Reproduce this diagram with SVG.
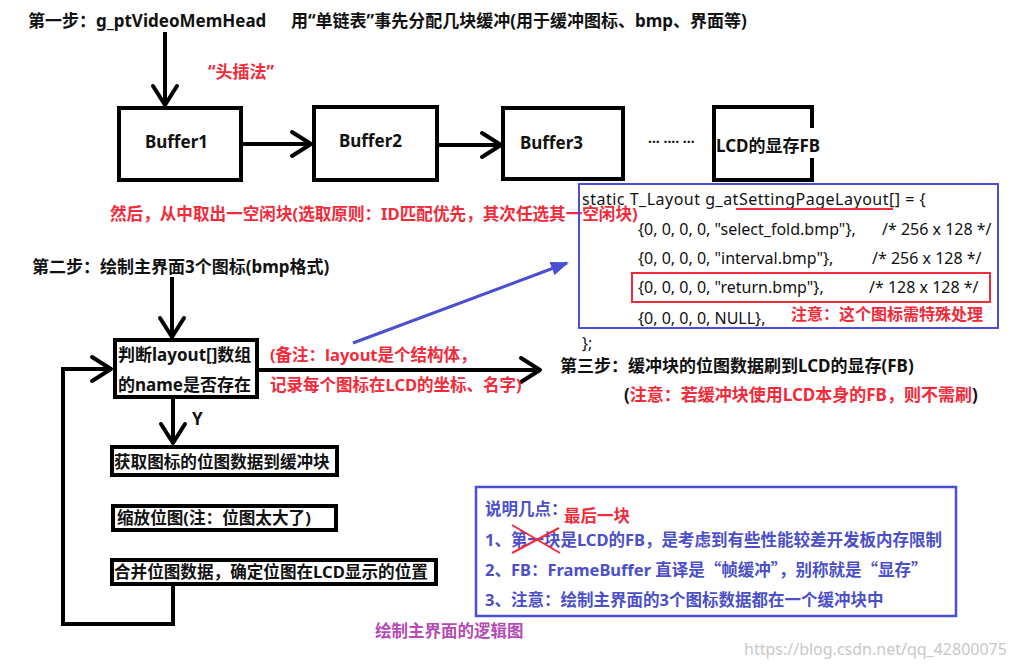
<svg xmlns="http://www.w3.org/2000/svg" width="1024" height="665" viewBox="0 0 1024 665">
<defs>
<style>
text{font-family:"Noto Sans","Noto Sans CJK SC",sans-serif;}
.q{font-family:"Noto Sans CJK SC",sans-serif;}
.b{font-weight:bold;font-size:17px;fill:#111;}
.s{font-weight:bold;font-size:16.6px;fill:#111;}
.r{font-weight:bold;font-size:17px;fill:#f22a3a;}
.code{font-size:16px;fill:#111;}
.blue{font-weight:bold;font-size:16.5px;fill:#4b4fc9;}
.box{fill:#fff;stroke:#000;stroke-width:4;}
.ln{fill:none;stroke:#000;stroke-width:4;}
</style>
<marker id="open" markerUnits="userSpaceOnUse" viewBox="-2 -2 24 28" refX="20" refY="12" markerWidth="24" markerHeight="28" orient="auto" overflow="visible">
<path d="M1,0 L20,12 L1,24" fill="none" stroke="#000" stroke-width="4" stroke-linecap="round" stroke-linejoin="round"/>
</marker>
<marker id="tri" markerUnits="userSpaceOnUse" viewBox="0 0 18 14" refX="16" refY="7" markerWidth="18" markerHeight="14" orient="auto">
<path d="M0,0 L18,7 L0,14 Z" fill="#4b4fd3"/>
</marker>
</defs>
<rect width="1024" height="665" fill="#fff"/>

<g id="title">
<text class="b" x="28" y="27">第一步：g_ptVideoMemHead</text>
<text class="b" x="291" y="27">用“单链表”事先分配几块缓冲(用于缓冲图标、bmp、界面等)</text>
<text class="r" x="208" y="78">“头插法”</text>
</g>

<g id="connectors">
<line class="ln" x1="165" y1="32" x2="165" y2="105" marker-end="url(#open)"/>
<line class="ln" x1="241" y1="144" x2="311" y2="144" marker-end="url(#open)"/>
<line class="ln" x1="437" y1="145" x2="501" y2="145" marker-end="url(#open)"/>
<line class="ln" x1="172" y1="277" x2="172" y2="337" marker-end="url(#open)"/>
<line class="ln" x1="259" y1="370" x2="540" y2="370" marker-end="url(#open)"/>
<line class="ln" x1="173" y1="399" x2="173" y2="443" marker-end="url(#open)"/>
<path class="ln" d="M173,586 V624 H63 V369 H111" marker-end="url(#open)"/>
<line x1="353" y1="343" x2="567" y2="263" stroke="#4b4fd3" stroke-width="3" marker-end="url(#tri)"/>
</g>

<g id="buffer1">
<rect class="box" x="119" y="108" width="122" height="72"/>
<text class="b" x="145" y="148">Buffer1</text>
</g>
<g id="buffer2">
<rect class="box" x="314" y="107" width="123" height="73"/>
<text class="b" x="339" y="147">Buffer2</text>
</g>
<g id="buffer3">
<rect class="box" x="503" y="108" width="120" height="71"/>
<text class="b" x="520" y="149">Buffer3</text>
</g>
<g id="dots">
<text class="b" x="648" y="147" style="font-size:14px">··· ···· ···</text>
</g>
<g id="lcdfb">
<rect class="box" x="714" y="107" width="98" height="73"/>
<rect x="716" y="128" width="106" height="30" fill="#fff"/>
<text class="b" x="716" y="152">LCD的显存FB</text>
</g>

<g id="step1-note">
<text class="r" x="110" y="220" style="font-size:16.6px">然后，从中取出一空闲块(选取原则：ID匹配优先，其次任选其一空闲块)</text>
</g>

<g id="layout-code">
<rect x="579" y="184" width="419" height="144" fill="none" stroke="#4b4fd3" stroke-width="2"/>
<text class="code" x="582" y="205" letter-spacing="0.5">static T_Layout g_atSettingPageLayout[] = {</text>
<line x1="736" y1="209" x2="893" y2="209" stroke="#f22a3a" stroke-width="2"/>
<text class="code" x="638" y="235">{0, 0, 0, 0, "select_fold.bmp"},</text>
<text class="code" x="882" y="235">/* 256 x 128 */</text>
<text class="code" x="638" y="264">{0, 0, 0, 0, "interval.bmp"},</text>
<text class="code" x="872" y="264">/* 256 x 128 */</text>
<rect x="632" y="273" width="358" height="29" fill="none" stroke="#f22a3a" stroke-width="2"/>
<text class="code" x="638" y="293">{0, 0, 0, 0, "return.bmp"},</text>
<text class="code" x="869" y="293">/* 128 x 128 */</text>
<text class="code" x="638" y="324">{0, 0, 0, 0, NULL},</text>
<text class="r" x="791" y="320" style="font-size:16px">注意：这个图标需特殊处理</text>
<text class="code" x="582" y="349">};</text>
</g>

<g id="step2">
<text class="b" x="32" y="273">第二步：绘制主界面3个图标(bmp格式)</text>
</g>

<g id="decision">
<rect class="box" x="115" y="340" width="142" height="57"/>
<text class="b" x="118" y="361">判断layout[]数组</text>
<text class="b" x="118" y="391">的name是否存在</text>
</g>
<g id="decision-note">
<text class="r" x="270" y="361" style="font-size:16.5px">(备注：layout是个结构体，</text>
<text class="r" x="270" y="391" style="font-size:16.5px">记录每个图标在LCD的坐标、名字)</text>
</g>
<g id="y-label">
<text class="b" x="192" y="425">Y</text>
</g>

<g id="step3">
<text class="b" x="560" y="372">第三步：缓冲块的位图数据刷到LCD的显存(FB)</text>
<text class="r" x="624" y="401"><tspan fill="#111">(</tspan>注意：若缓冲块使用LCD本身的FB，则不需刷<tspan fill="#111">)</tspan></text>
</g>

<g id="get-bitmap">
<rect class="box" x="112" y="447" width="225" height="28"/>
<text class="s" x="114" y="468">获取图标的位图数据到缓冲块</text>
</g>
<g id="scale-bitmap">
<rect class="box" x="113" y="506" width="223" height="24"/>
<text class="s" x="117" y="524">缩放位图(注：位图太大了)</text>
</g>
<g id="merge-bitmap">
<rect class="box" x="112" y="560" width="324" height="24"/>
<text class="s" x="114" y="578">合并位图数据，确定位图在LCD显示的位置</text>
</g>

<g id="notes">
<rect x="476" y="487" width="480" height="129" fill="none" stroke="#4b4fd3" stroke-width="2.5"/>
<text class="blue" x="485" y="515">说明几点：</text>
<text class="r" x="564" y="522" style="font-size:16.5px">最后一块</text>
<text class="blue" x="485" y="546">1、第一块是LCD的FB，是考虑到有些性能较差开发板内存限制</text>
<line x1="512" y1="525" x2="560" y2="553" stroke="#f22a3a" stroke-width="2"/>
<line x1="512" y1="553" x2="559" y2="528" stroke="#f22a3a" stroke-width="2"/>
<text class="blue" x="485" y="576">2、FB：FrameBuffer 直译是<tspan class="q">“</tspan>帧缓冲<tspan class="q">”</tspan>，别称就是<tspan class="q">“</tspan>显存<tspan class="q">”</tspan></text>
<text class="blue" x="485" y="606">3、注意：绘制主界面的3个图标数据都在一个缓冲块中</text>
</g>

<g id="caption">
<text x="375" y="637" style="font-weight:bold;font-size:16.5px;fill:#b54bb5">绘制主界面的逻辑图</text>
<text x="744" y="655" style="font-size:16px;fill:#c8c8c8">https://blog.csdn.net/qq_42800075</text>
</g>
</svg>
